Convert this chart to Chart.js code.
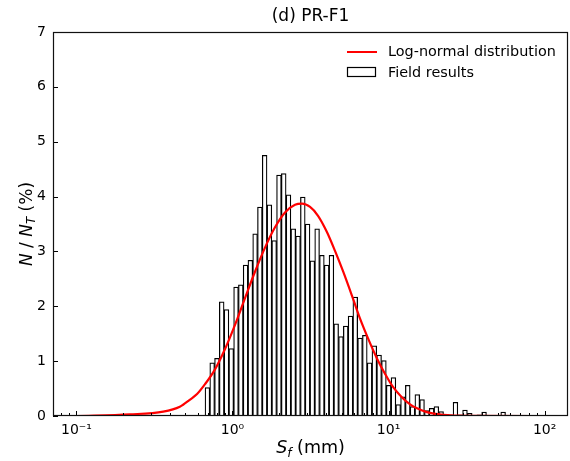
<!DOCTYPE html>
<html>
<head>
<meta charset="utf-8">
<script src="https://cdn.jsdelivr.net/npm/chart.js@4.4.0/dist/chart.umd.min.js"></script>
<style>
  html, body { margin: 0; padding: 0; background: #fff; }
  #wrap { width: 570px; height: 461px; }
</style>
</head>
<body>
<div id="wrap"><canvas id="chart" width="570" height="461"></canvas></div>
<script>
// ---- data ----
// histogram bins are equal in log space between these two edges (mm)
const binStartMm = 0.667;
const binEndMm = 56.2;
// field results, % of total per bin (left to right)
const fieldPct = [
  0.52, 0.97, 1.05, 2.08, 1.94, 1.23, 2.35, 2.39, 2.75, 2.84,
  3.32, 3.81, 4.75, 3.85, 3.20, 4.39, 4.42, 4.03, 3.41, 3.28,
  3.99, 3.50, 2.83, 3.41, 2.93, 2.75, 2.93, 1.68, 1.45, 1.64,
  1.82, 2.17, 1.42, 1.47, 0.97, 1.28, 1.11, 1.01, 0.56, 0.70,
  0.21, 0.35, 0.56, 0.17, 0.39, 0.30, 0.10, 0.14, 0.17, 0.08,
  0.03, 0.02, 0.25, 0.02, 0.11, 0.05, 0, 0.02, 0.07, 0,
  0, 0, 0.07
];

// log-normal curve, sampled from the figure
const curveMm = [0.1, 0.22, 0.36, 0.46, 0.535, 0.593, 0.667, 0.773, 0.896, 1.038,
  1.203, 1.394, 1.616, 1.873, 2.171, 2.516, 2.791, 3.142, 3.534, 4.036,
  4.54, 5.11, 5.92, 6.56, 7.38, 8.43, 9.49, 10.68, 13.74, 17.64,
  22.33, 33.3, 100];
const curvePct = [0, 0.03, 0.08, 0.17, 0.30, 0.40, 0.58, 0.85, 1.22, 1.66,
  2.15, 2.63, 3.07, 3.44, 3.71, 3.85, 3.87, 3.81, 3.65, 3.35,
  3.01, 2.64, 2.14, 1.78, 1.42, 1.05, 0.77, 0.53, 0.21, 0.07,
  0.02, 0.003, 0];

const xTickValues = [0.1, 1, 10, 100];
const xTickLabels = ['10\u207B\u00B9', '10\u2070', '10\u00B9', '10\u00B2'];
const yTickValues = [0, 1, 2, 3, 4, 5, 6, 7];

// ---- build datasets ----
const lo = Math.log10(binStartMm), hi = Math.log10(binEndMm);
const bw = (hi - lo) / fieldPct.length;
const barPoints = fieldPct.map((v, i) => ({ x: Math.pow(10, lo + (i + 0.5) * bw), y: v }));
const curvePoints = curveMm.map((m, i) => ({ x: m, y: curvePct[i] }));

const FONT = "'DejaVu Sans', 'Liberation Sans', sans-serif";
Chart.defaults.font.family = FONT;
Chart.defaults.color = '#000';

function richText(ctx, parts, cx, baseY, size) {
  const fontFor = p => (p.italic ? 'italic ' : '') + (p.sub ? size * 0.7 : size) + 'px ' + FONT;
  let total = 0;
  parts.forEach(p => { ctx.font = fontFor(p); total += ctx.measureText(p.t).width; });
  let x = cx - total / 2;
  ctx.textAlign = 'left';
  ctx.textBaseline = 'alphabetic';
  parts.forEach(p => {
    ctx.font = fontFor(p);
    ctx.fillText(p.t, x, baseY + (p.sub ? size * 0.22 : 0));
    x += ctx.measureText(p.t).width;
  });
}

// frame, inward ticks, title, axis labels and legend (matplotlib look)
const decorations = {
  id: 'decorations',
  afterDraw(chart) {
    const { ctx, chartArea: a } = chart;
    const xs = chart.scales.x, ys = chart.scales.y;
    ctx.save();
    ctx.strokeStyle = '#000';
    ctx.lineWidth = 1;
    // y ticks
    yTickValues.forEach(v => {
      const py = Math.round(ys.getPixelForValue(v)) + 0.5;
      ctx.beginPath(); ctx.moveTo(a.left, py); ctx.lineTo(a.left + 5, py); ctx.stroke();
    });
    // x major + minor ticks
    for (let k = -2; k <= 2; k++) {
      for (let d = 1; d <= 9; d++) {
        const v = d * Math.pow(10, k);
        if (v < xs.min || v > xs.max) continue;
        const px = Math.round(xs.getPixelForValue(v)) + 0.5;
        const len = d === 1 ? 5 : 3;
        ctx.beginPath(); ctx.moveTo(px, a.bottom); ctx.lineTo(px, a.bottom - len); ctx.stroke();
      }
    }
    // frame
    ctx.lineWidth = 1.2;
    ctx.strokeStyle = '#111';
    ctx.strokeRect(a.left + 0.5, a.top + 0.5, a.right - a.left - 1, a.bottom - a.top - 1);

    ctx.fillStyle = '#000';
    // title
    ctx.font = '17px ' + FONT;
    ctx.textAlign = 'center';
    ctx.textBaseline = 'alphabetic';
    ctx.fillText('(d) PR-F1', (a.left + a.right) / 2, 21);

    // x axis label
    richText(ctx, [
      { t: 'S', italic: true }, { t: 'f', italic: true, sub: true }, { t: ' (mm)' }
    ], (a.left + a.right) / 2, 453, 17.5);

    // y axis label
    ctx.save();
    ctx.translate(25, (a.top + a.bottom) / 2);
    ctx.rotate(-Math.PI / 2);
    richText(ctx, [
      { t: 'N', italic: true }, { t: ' / ' }, { t: 'N', italic: true },
      { t: 'T', italic: true, sub: true }, { t: ' (%)' }
    ], 0, 6.5, 17);
    ctx.restore();

    // legend
    const lx = 347;
    ctx.strokeStyle = '#ff0000';
    ctx.lineWidth = 2;
    ctx.beginPath(); ctx.moveTo(lx, 52); ctx.lineTo(lx + 30, 52); ctx.stroke();
    ctx.fillStyle = '#fff';
    ctx.fillRect(lx + 0.5, 67.5, 28, 9);
    ctx.strokeStyle = '#000';
    ctx.lineWidth = 1.2;
    ctx.strokeRect(lx + 0.5, 67.5, 28, 9);
    ctx.fillStyle = '#000';
    ctx.font = '14.4px ' + FONT;
    ctx.textAlign = 'left';
    ctx.fillText(chart.data.datasets[0].label, 388, 56);
    ctx.fillText(chart.data.datasets[1].label, 388, 77);
    ctx.restore();
  }
};

new Chart(document.getElementById('chart'), {
  type: 'bar',
  data: {
    datasets: [
      {
        type: 'line',
        label: 'Log-normal distribution',
        data: curvePoints,
        borderColor: '#ff0000',
        borderWidth: 2.2,
        pointRadius: 0,
        cubicInterpolationMode: 'monotone',
        fill: false,
        order: 0
      },
      {
        type: 'bar',
        label: 'Field results',
        data: barPoints,
        backgroundColor: '#ffffff',
        borderColor: '#000000',
        borderWidth: 1.25,
        borderSkipped: false,
        barPercentage: 1,
        categoryPercentage: 1,
        order: 1
      }
    ]
  },
  options: {
    responsive: false,
    animation: false,
    devicePixelRatio: 1,
    layout: { padding: { left: 0, right: 2, top: 32, bottom: 0 } },
    plugins: { legend: { display: false }, title: { display: false }, tooltip: { enabled: false } },
    scales: {
      x: {
        type: 'logarithmic',
        min: Math.pow(10, -1.15),
        max: Math.pow(10, 2.15),
        offset: false,
        grid: { display: false, drawTicks: false },
        border: { display: false },
        afterFit: s => { s.height = 45; },
        afterBuildTicks: s => { s.ticks = xTickValues.map(v => ({ value: v })); },
        ticks: {
          padding: 6,
          maxRotation: 0,
          autoSkip: false,
          font: { size: 14 },
          callback: v => xTickLabels[xTickValues.indexOf(v)]
        }
      },
      y: {
        type: 'linear',
        min: 0,
        max: 7,
        grid: { display: false, drawTicks: false },
        border: { display: false },
        afterFit: s => { s.width = 53; },
        afterBuildTicks: s => { s.ticks = yTickValues.map(v => ({ value: v })); },
        ticks: { padding: 7, font: { size: 14 } }
      }
    }
  },
  plugins: [decorations]
});
</script>
</body>
</html>
